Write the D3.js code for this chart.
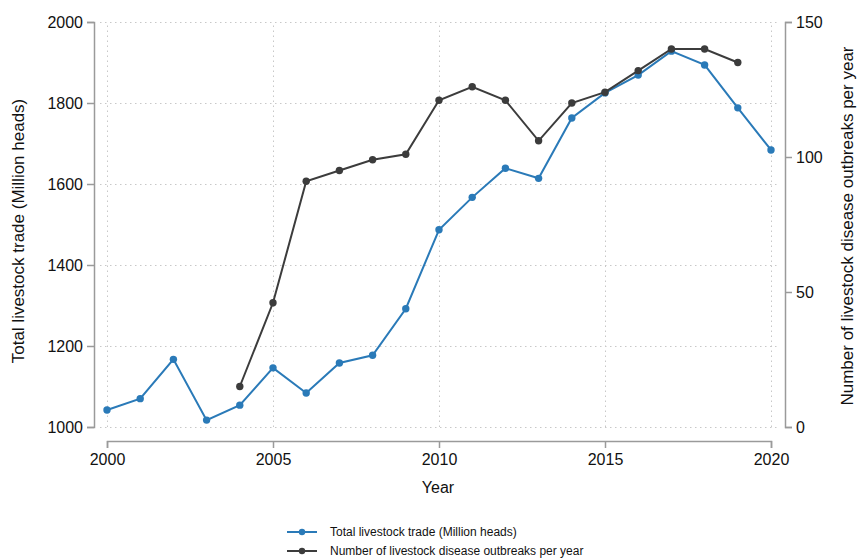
<!DOCTYPE html>
<html>
<head>
<meta charset="utf-8">
<script src="https://cdn.jsdelivr.net/npm/d3@7"></script>
<style>
  body { margin: 0; background: #fff; }
  svg { font-family: "Liberation Sans", Arial, sans-serif; }
  .grid line { stroke: #c8c8c8; stroke-dasharray: 1.5 3.5; }
  .grid .domain { display: none; }
</style>
</head>
<body>
<svg id="chart" width="858" height="558"></svg>
<script>
// data
var years = [2000, 2001, 2002, 2003, 2004, 2005, 2006, 2007, 2008, 2009, 2010,
             2011, 2012, 2013, 2014, 2015, 2016, 2017, 2018, 2019, 2020];
var trade = [1042, 1070, 1167, 1017, 1054, 1146, 1084, 1158, 1177, 1292, 1487,
             1567, 1639, 1614, 1763, 1825, 1869, 1928, 1894, 1788, 1684];
var outbreakYears = [2004, 2005, 2006, 2007, 2008, 2009, 2010, 2011, 2012, 2013,
                     2014, 2015, 2016, 2017, 2018, 2019];
var outbreaks = [15, 46, 91, 95, 99, 101, 121, 126, 121, 106, 120, 124, 132, 140, 140, 135];

var xTicks = [2000, 2005, 2010, 2015, 2020];
var leftTicks = [1000, 1200, 1400, 1600, 1800, 2000];
var rightTicks = [0, 50, 100, 150];

var blue = "#2a7ab8";
var dark = "#3c3c3c";
var axisCol = "#9a9a9a";

var svg = d3.select("#chart");

var x = d3.scaleLinear().domain([2000, 2020]).range([107, 771]);
var yL = d3.scaleLinear().domain([1000, 2000]).range([427, 22]);
var yR = d3.scaleLinear().domain([0, 150]).range([427, 22]);

// grid
svg.append("g")
    .attr("class", "grid")
    .attr("transform", "translate(0,427)")
    .call(d3.axisBottom(x).tickValues(xTicks).tickSize(-405).tickFormat(""));
svg.append("g")
    .attr("class", "grid")
    .attr("transform", "translate(100,0)")
    .call(d3.axisLeft(yL).tickValues(leftTicks).tickSize(-680).tickFormat(""));

// axes
function styleAxis(g) {
    g.select(".domain").attr("stroke", axisCol).attr("stroke-width", 1.5);
    g.selectAll(".tick line").attr("stroke", axisCol).attr("stroke-width", 1.5);
    g.selectAll(".tick text").attr("fill", "#111").style("font-size", "16px");
}

var xAxis = svg.append("g")
    .attr("transform", "translate(0,441)")
    .call(d3.axisBottom(x).tickValues(xTicks).tickFormat(d3.format("d")).tickSizeOuter(0).tickSize(7).tickPadding(6));
styleAxis(xAxis);

var leftAxis = svg.append("g")
    .attr("transform", "translate(94,0)")
    .call(d3.axisLeft(yL).tickValues(leftTicks).tickFormat(d3.format("d")).tickSizeOuter(0).tickSize(7).tickPadding(4));
styleAxis(leftAxis);

var rightAxis = svg.append("g")
    .attr("transform", "translate(785,0)")
    .call(d3.axisRight(yR).tickValues(rightTicks).tickSizeOuter(0).tickSize(7).tickPadding(4));
styleAxis(rightAxis);

// axis titles
svg.append("text")
    .attr("transform", "translate(24,231) rotate(-90)")
    .attr("text-anchor", "middle")
    .style("font-size", "17px")
    .attr("fill", "#111")
    .text("Total livestock trade (Million heads)");

svg.append("text")
    .attr("transform", "translate(853,226) rotate(-90)")
    .attr("text-anchor", "middle")
    .style("font-size", "17px")
    .attr("fill", "#111")
    .text("Number of livestock disease outbreaks per year");

svg.append("text")
    .attr("x", 438)
    .attr("y", 493)
    .attr("text-anchor", "middle")
    .style("font-size", "16px")
    .attr("fill", "#111")
    .text("Year");

// lines
var tradeData = years.map(function (d, i) { return { x: d, y: trade[i] }; });
var outData = outbreakYears.map(function (d, i) { return { x: d, y: outbreaks[i] }; });

var lineL = d3.line().x(function (d) { return x(d.x); }).y(function (d) { return yL(d.y); });
var lineR = d3.line().x(function (d) { return x(d.x); }).y(function (d) { return yR(d.y); });

svg.append("path")
    .datum(tradeData)
    .attr("fill", "none")
    .attr("stroke", blue)
    .attr("stroke-width", 2)
    .attr("d", lineL);
svg.selectAll(".dotT")
    .data(tradeData)
    .enter().append("circle")
    .attr("cx", function (d) { return x(d.x); })
    .attr("cy", function (d) { return yL(d.y); })
    .attr("r", 3.7)
    .attr("fill", blue);

svg.append("path")
    .datum(outData)
    .attr("fill", "none")
    .attr("stroke", dark)
    .attr("stroke-width", 2)
    .attr("d", lineR);
svg.selectAll(".dotO")
    .data(outData)
    .enter().append("circle")
    .attr("cx", function (d) { return x(d.x); })
    .attr("cy", function (d) { return yR(d.y); })
    .attr("r", 3.7)
    .attr("fill", dark);

// legend
var legendItems = [
    { label: "Total livestock trade (Million heads)", color: blue },
    { label: "Number of livestock disease outbreaks per year", color: dark }
];
var leg = svg.append("g").selectAll("g")
    .data(legendItems)
    .enter().append("g")
    .attr("transform", function (d, i) { return "translate(287," + (532 + i * 19) + ")"; });
leg.append("line")
    .attr("x1", 0).attr("x2", 30)
    .attr("stroke", function (d) { return d.color; })
    .attr("stroke-width", 2);
leg.append("circle")
    .attr("cx", 15).attr("r", 3.2)
    .attr("fill", function (d) { return d.color; });
leg.append("text")
    .attr("x", 43)
    .attr("dy", "0.35em")
    .style("font-size", "12px")
    .attr("fill", "#111")
    .text(function (d) { return d.label; });
</script>
</body>
</html>
